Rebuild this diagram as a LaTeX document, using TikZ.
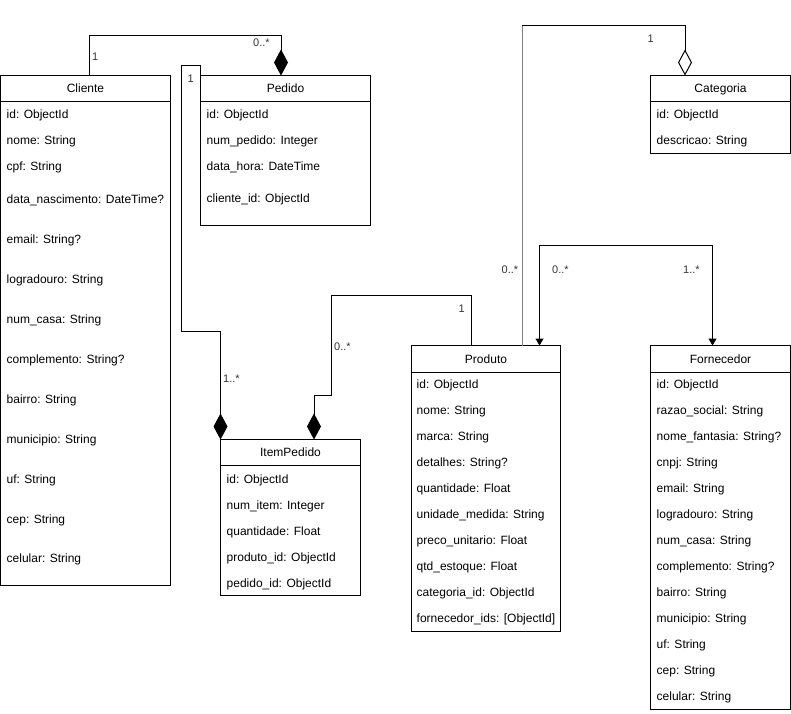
\documentclass[tikz,border=0pt]{standalone}
\usepackage{fontspec}
\setmainfont{Liberation Sans}
\usetikzlibrary{arrows.meta,calc}
\begin{document}
\begin{tikzpicture}[x=1pt,y=-1pt,
  classbox/.style={draw=black,line width=1pt,fill=white,anchor=north west,
    inner sep=0pt,outer sep=0pt},
  ctitle/.style={font=\fontsize{12}{14}\selectfont,inner sep=0pt,anchor=base},
  attr/.style={font=\fontsize{12}{14}\selectfont,inner sep=0pt,anchor=base west},
  mult/.style={font=\fontsize{11}{13}\selectfont,text=black!80,inner sep=0pt,anchor=base west},
  link/.style={draw=black,line width=1pt},
  comp/.style={link,-{Diamond[length=26pt,width=14pt,fill=black]}},
  aggr/.style={link,-{Diamond[open,length=26pt,width=14pt]}},
  nav/.style={link,{Triangle[length=7pt,width=8pt]}-{Triangle[length=7pt,width=8pt]}}
]
\useasboundingbox (0,0) rectangle (791,713);

% ---------- classes ----------
\node[classbox,minimum width=170pt,minimum height=510pt] (cliente) at (0.5,75.5) {};
\draw[link] (0.5,101.5) -- (170.5,101.5);
\node[ctitle] (cliente-t) at (85.5,92.8) {Cliente};
\foreach \yy/\tt [count=\i] in {114/id: ObjectId,140/nome: String,166/cpf: String,
  199/data\_nascimento: DateTime?,239/email: String?,279/logradouro: String,
  319/num\_casa: String,359/complemento: String?,399/bairro: String,
  439/municipio: String,479/uf: String,519/cep: String,558/celular: String}
  \node[attr] (cliente-\i) at (6.5,\yy+4.3) {\tt};

\node[classbox,minimum width=170pt,minimum height=149.5pt] (pedido) at (200.5,75.5) {};
\draw[link] (200.5,101.5) -- (370.5,101.5);
\node[ctitle] (pedido-t) at (285.5,92.8) {Pedido};
\foreach \yy/\tt [count=\i] in {114/id: ObjectId,140/num\_pedido: Integer,
  166/data\_hora: DateTime,198/cliente\_id: ObjectId}
  \node[attr] (pedido-\i) at (206.5,\yy+4.3) {\tt};

\node[classbox,minimum width=140pt,minimum height=156pt] (itempedido) at (220.5,439.5) {};
\draw[link] (220.5,465.5) -- (360.5,465.5);
\node[ctitle] (itempedido-t) at (290.5,456.8) {ItemPedido};
\foreach \tt [count=\i] in {id: ObjectId,num\_item: Integer,quantidade: Float,
  produto\_id: ObjectId,pedido\_id: ObjectId}
  \node[attr] (itempedido-\i) at (226.5,479+26*\i-26+4.3) {\tt};

\node[classbox,minimum width=149pt,minimum height=286pt] (produto) at (411.5,345.5) {};
\draw[link] (411.5,372.5) -- (560.5,372.5);
\node[ctitle] (produto-t) at (486,363.3) {Produto};
\foreach \tt [count=\i] in {id: ObjectId,nome: String,marca: String,detalhes: String?,
  quantidade: Float,unidade\_medida: String,preco\_unitario: Float,qtd\_estoque: Float,
  categoria\_id: ObjectId,fornecedor\_ids: [ObjectId]}
  \node[attr] (produto-\i) at (416.5,384+26*\i-26+4.3) {\tt};

\node[classbox,minimum width=140pt,minimum height=364pt] (fornecedor) at (650.5,345.5) {};
\draw[link] (650.5,372.5) -- (790.5,372.5);
\node[ctitle] (fornecedor-t) at (720.5,363.3) {Fornecedor};
\foreach \tt [count=\i] in {id: ObjectId,razao\_social: String,nome\_fantasia: String?,
  cnpj: String,email: String,logradouro: String,num\_casa: String,complemento: String?,
  bairro: String,municipio: String,uf: String,cep: String,celular: String}
  \node[attr] (fornecedor-\i) at (656.5,384+26*\i-26+4.3) {\tt};

\node[classbox,minimum width=140pt,minimum height=77.5pt] (categoria) at (650.5,75.5) {};
\draw[link] (650.5,101) -- (790.5,101);
\node[ctitle] (categoria-t) at (720.5,92.5) {Categoria};
\node[attr] (categoria-1) at (656.5,114+4.3) {id: ObjectId};
\node[attr] (categoria-2) at (656.5,140+4.3) {descricao: String};

% ---------- bend points ----------
\coordinate (k1) at (89.5,35.5);
\coordinate (k2) at (181.5,65.5);
\coordinate (k3) at (181.5,331.5);
\coordinate (k4) at (331.5,295.5);
\coordinate (k5) at (314,395.5);
\coordinate (k6) at (522.5,25.5);
\coordinate (k7) at (539.5,245.5);

% ---------- associations ----------
\draw[comp] ($(cliente.north west)+(89,0)$) -- (k1) -| ($(pedido.north west)+(80.5,0)$);
\draw[comp] (pedido.north west) |- (k2) -- (k3) -| (itempedido.north west);
\draw[comp] ($(produto.north west)+(60,0)$) |- (k4) |- (k5)
  -- ($(itempedido.north west)+(93.5,0)$);
\draw[aggr] ($(produto.north west)+(111,0)$) -- (k6) -| ($(categoria.north west)+(34.5,0)$);
\draw[draw=black!50,line width=1.6pt] ($(produto.north west)+(111,0)$) -- (k6);
\draw[nav] ($(produto.north west)+(128,0)$) -- (k7) -| ($(fornecedor.north west)+(62,0)$);

% ---------- multiplicities ----------
\node[mult] (m1) at (92,60) {1};
\node[mult] (m2) at (253,46) {0..*};
\node[mult] (m3) at (187.5,82) {1};
\node[mult] (m4) at (223,382) {1..*};
\node[mult] (m5) at (334,350) {0..*};
\node[mult] (m6) at (458.5,312) {1};
\node[mult] (m7) at (647.5,42) {1};
\node[mult] (m8) at (501.5,273) {0..*};
\node[mult] (m9) at (552,273) {0..*};
\node[mult] (m10) at (683,273) {1..*};
\end{tikzpicture}
\end{document}
